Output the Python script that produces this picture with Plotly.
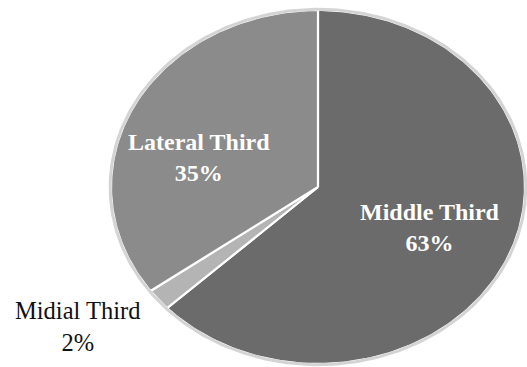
import numpy as np
import plotly.graph_objects as go

# Share of cases by location
categories = ["Middle Third", "Midial Third", "Lateral Third"]
shares = [63, 2, 35]

slice_colors = ["#6b6b6b", "#b4b4b4", "#8b8b8b"]
label_colors = ["white", "#111111", "white"]
label_bold = [True, False, True]
label_sizes = [24, 24.5, 24]
# label anchor points in the pie's unit coordinates (x: right, y: up)
label_pos = [(0.541, -0.226), (-1.164, -0.79), (-0.575, 0.164)]

fig = go.Figure()

# wedges are traced clockwise from 12 o'clock on a unit circle;
# the unequal axis scales stretch it into the oval shape
total = float(sum(shares))
start = 0.0
for name, val, col in zip(categories, shares, slice_colors):
    end = start + val / total
    t = np.linspace(start, end, max(int(400 * (end - start)), 8)) * 2 * np.pi
    xs = np.concatenate([[0], np.sin(t), [0]])
    ys = np.concatenate([[0], np.cos(t), [0]])
    fig.add_trace(go.Scatter(
        x=xs, y=ys, mode="lines", fill="toself", fillcolor=col,
        line=dict(color="white", width=2.2), hoverinfo="skip", showlegend=False,
        name=name,
    ))
    start = end

# soft outer rim
t = np.linspace(0, 2 * np.pi, 400)
fig.add_trace(go.Scatter(x=np.sin(t) * 1.004, y=np.cos(t) * 1.004, mode="lines",
                         line=dict(color="#d4d4d4", width=3),
                         hoverinfo="skip", showlegend=False))

for name, val, col, bold, size, (lx, ly) in zip(categories, shares, label_colors,
                                                 label_bold, label_sizes, label_pos):
    txt = f"{name}<br>{val}%"
    if bold:
        txt = f"<b>{name}</b><br><b>{val}%</b>"
    fig.add_annotation(x=lx, y=ly, text=txt, showarrow=False,
                       font=dict(family="Liberation Serif", size=size, color=col),
                       align="center", xanchor="center", yanchor="middle")

fig.update_xaxes(range=[-1.536, 1.0097], visible=False, fixedrange=True)
fig.update_yaxes(range=[-1.017, 1.0565], visible=False, fixedrange=True)
fig.update_layout(
    width=527, height=367,
    margin=dict(l=0, r=0, t=0, b=0),
    paper_bgcolor="white", plot_bgcolor="white",
    showlegend=False,
)

fig.write_html("out.html")
